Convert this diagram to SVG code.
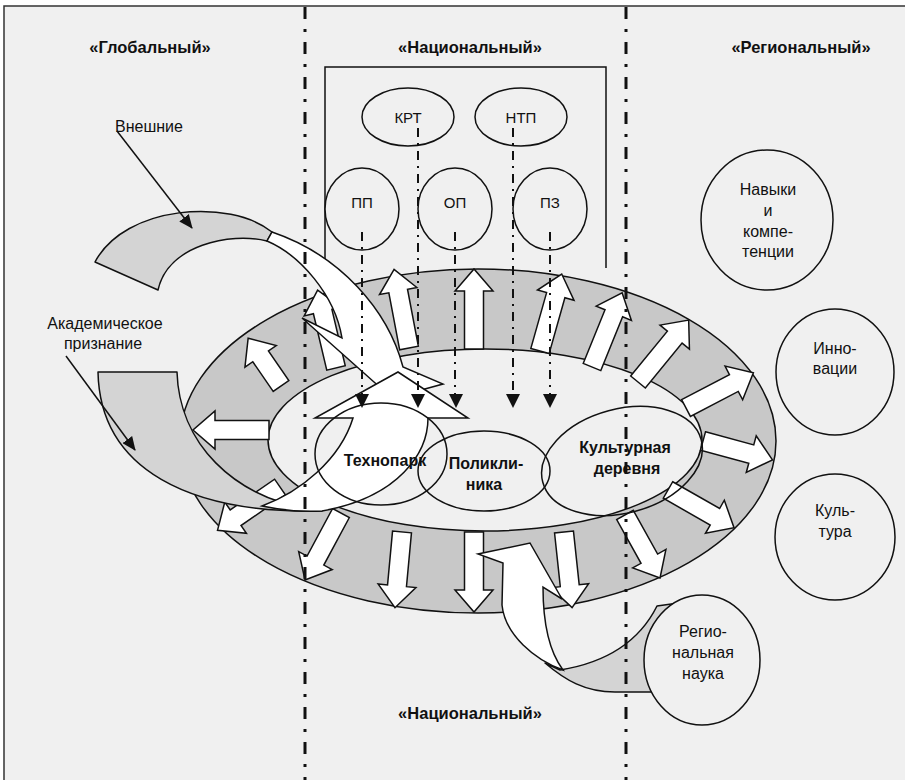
<svg xmlns="http://www.w3.org/2000/svg" width="905" height="780" viewBox="0 0 905 780">
<defs>
<style>
.ln{fill:none;stroke:#111;stroke-width:1.5}
.ra{fill:#fff;stroke:#111;stroke-width:1.5;stroke-linejoin:miter}
.gb{fill:#d4d4d4;stroke:#111;stroke-width:1.5;stroke-linejoin:round}
.wb{fill:#fff;stroke:#111;stroke-width:1.5;stroke-linejoin:miter}
.el{fill:#f0f0f0;stroke:#111;stroke-width:1.5}
.eo{fill:none;stroke:#111;stroke-width:1.5}
.dv{stroke:#111;stroke-width:3;stroke-dasharray:12 10 3 10;fill:none}
.dd{stroke:#111;stroke-width:2;stroke-dasharray:9 6 2 6;fill:none}
.ah{fill:#111;stroke:none}
.h{font-family:'Liberation Sans',Arial,sans-serif;font-weight:bold;font-size:16.5px;text-anchor:middle;fill:#111}
.t{font-family:'Liberation Sans',Arial,sans-serif;font-size:16px;text-anchor:middle;fill:#111}
.ts{font-family:'Liberation Sans',Arial,sans-serif;font-size:15px;text-anchor:middle;fill:#111}
.tb{font-family:'Liberation Sans',Arial,sans-serif;font-size:16px;font-weight:bold;text-anchor:middle;fill:#111}
</style>
<path id="ar80" d="M0,-9.5H58V-19L80,0L58,19V9.5H0Z"/>
<path id="ar76" d="M0,-9.5H54V-19L76,0L54,19V9.5H0Z"/>
<path id="ar72" d="M0,-9.5H50V-19L72,0L50,19V9.5H0Z"/>
<path id="ar58" d="M0,-9.5H36V-19L58,0L36,19V9.5H0Z"/>
<marker id="mh" markerUnits="userSpaceOnUse" markerWidth="14" markerHeight="12" viewBox="0 0 14 12" refX="13" refY="6" orient="auto">
<path d="M0,0L14,6L0,12Z" fill="#111"/>
</marker>
</defs>

<rect x="0" y="0" width="905" height="780" fill="#ffffff"/>
<rect id="frame" x="4" y="6" width="920" height="800" fill="#f0f0f0" stroke="#333" stroke-width="1.5"/>

<g id="headings">
<text class="h" x="150" y="53">«Глобальный»</text>
<text class="h" x="470" y="53">«Национальный»</text>
<text class="h" x="801" y="53">«Региональный»</text>
<text class="h" x="470" y="719">«Национальный»</text>
</g>

<g id="ring">
<ellipse cx="478" cy="441" rx="298" ry="172" fill="#c8c8c8" stroke="#111" stroke-width="1.5"/>
<ellipse cx="485" cy="440" rx="217" ry="91" fill="#f0f0f0" stroke="#111" stroke-width="1.5"/>
</g>

<g id="national-box" class="ln">
<path d="M325,268V67H606V268"/>
</g>

<g id="KRT"><ellipse class="el" cx="408" cy="117" rx="46" ry="29"/><text class="ts" x="408" y="123">КРТ</text></g>
<g id="NTP"><ellipse class="el" cx="521" cy="117" rx="46" ry="29"/><text class="ts" x="521" y="123">НТП</text></g>
<g id="PP"><ellipse class="el" cx="362" cy="209" rx="37" ry="41"/><text class="ts" x="362" y="208">ПП</text></g>
<g id="OP"><ellipse class="el" cx="455" cy="209" rx="37" ry="41"/><text class="ts" x="455" y="208">ОП</text></g>
<g id="PZ"><ellipse class="el" cx="550" cy="209" rx="37" ry="41"/><text class="ts" x="550" y="208">ПЗ</text></g>

<g id="ring-arrows" class="ra">
<use href="#ar80" transform="translate(336,368) rotate(-103.3)"/>
<use href="#ar80" transform="translate(409,348) rotate(-100.75)"/>
<use href="#ar80" transform="translate(474,349) rotate(-90)"/>
<use href="#ar80" transform="translate(540,351) rotate(-74.25)"/>
<use href="#ar80" transform="translate(592,367) rotate(-67.9)"/>
<use href="#ar80" transform="translate(638,382) rotate(-50.7)"/>
<use href="#ar76" transform="translate(686,408) rotate(-27.6)"/>
<use href="#ar72" transform="translate(703,441) rotate(15.2)"/>
<use href="#ar76" transform="translate(668,490) rotate(29.7)"/>
<use href="#ar72" transform="translate(625,515) rotate(60.9)"/>
<use href="#ar76" transform="translate(564,532) rotate(83.9)"/>
<use href="#ar80" transform="translate(474,532) rotate(90)"/>
<use href="#ar76" transform="translate(402,532) rotate(95.3)"/>
<use href="#ar76" transform="translate(341,513) rotate(118.25)"/>
<use href="#ar76" transform="translate(280,487) rotate(145.3)"/>
<use href="#ar76" transform="translate(269,430) rotate(180)"/>
<use href="#ar58" transform="translate(281,386) rotate(-124.5)"/>
</g>

<g id="regional-arrow">
<path class="gb" d="M545,663C565,680 585,692 615,692L700,692L700,600L657,606C640,640 610,662 560,670Z"/>
<path class="wb" d="M563,670C535,660 505,635 502,605L503,563L478,554L530,543L562,599L543,587C543,620 548,650 563,670Z"/>
</g>

<g id="external-arrow">
<path class="gb" d="M95,262C125,205 230,198 272,232L267,241C230,232 168,245 158,290Z"/>
<path class="wb" d="M272,232C340,255 388,310 403,367L443,384L392,398L302,318L342,338C335,295 300,255 267,241Z"/>
</g>

<g id="academic-arrow">
<path class="gb" d="M98,372L177,372C179,440 230,500 322,511C190,514 100,470 98,372Z"/>
<path class="wb" d="M262,506C300,492 340,460 353,418L315,418L398,372L468,418L428,418C428,452 400,497 322,511C300,512 280,510 262,506Z"/>
</g>

<g id="technopark"><ellipse class="eo" cx="381" cy="454" rx="66" ry="51"/><text class="tb" x="385" y="466">Технопарк</text></g>
<g id="poliklinika"><ellipse class="eo" cx="484" cy="471" rx="66" ry="40"/><text class="tb" x="486" y="469">Поликли-</text><text class="tb" x="484" y="490">ника</text></g>
<g id="kult-derevnya"><ellipse class="eo" cx="622" cy="461" rx="82" ry="52" transform="rotate(-15 622 461)"/><text class="tb" x="625" y="453">Культурная</text><text class="tb" x="627" y="474">деревня</text></g>

<g id="connectors">
<path class="dd" d="M362,232V395M455,232V395M550,232V395M418,128V395M513,128V395"/>
<g class="ah">
<path d="M355,394H369L362,408Z"/>
<path d="M449,394H463L456,408Z"/>
<path d="M543,394H557L550,408Z"/>
<path d="M411,394H425L418,408Z"/>
<path d="M506,394H520L513,408Z"/>
</g>
<path class="ln" d="M117,131L192,228" marker-end="url(#mh)"/>
<path class="ln" d="M66,356L135,450" marker-end="url(#mh)"/>
</g>

<g id="dividers">
<path class="dv" d="M305,7V780"/>
<path class="dv" d="M626,7V780"/>
</g>

<g id="labels">
<text class="t" x="115" y="132" style="text-anchor:start">Внешние</text>
<text class="t" x="105" y="329">Академическое</text>
<text class="t" x="103" y="349">признание</text>
</g>

<g id="navyki"><ellipse class="el" cx="767" cy="220" rx="66" ry="70"/>
<text class="t" x="768" y="195">Навыки</text><text class="t" x="768" y="216">и</text><text class="t" x="768" y="237">компе-</text><text class="t" x="768" y="257">тенции</text></g>
<g id="innovacii"><ellipse class="el" cx="835" cy="372" rx="59" ry="63"/>
<text class="t" x="835" y="354">Инно-</text><text class="t" x="835" y="374">вации</text></g>
<g id="kultura"><ellipse class="el" cx="835" cy="537" rx="60" ry="63"/>
<text class="t" x="835" y="516">Куль-</text><text class="t" x="835" y="537">тура</text></g>
<g id="reg-nauka"><ellipse class="el" cx="702" cy="660" rx="58" ry="65"/>
<text class="t" x="703" y="637">Регио-</text><text class="t" x="703" y="658">нальная</text><text class="t" x="703" y="679">наука</text></g>
</svg>
